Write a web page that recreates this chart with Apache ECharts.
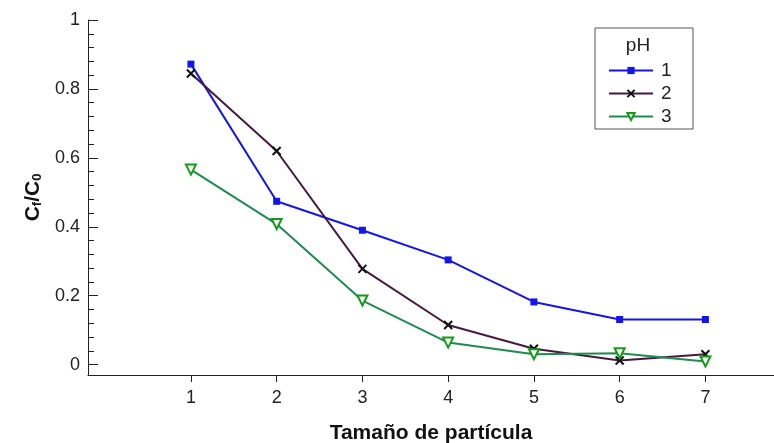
<!DOCTYPE html>
<html>
<head>
<meta charset="utf-8">
<script src="https://cdn.jsdelivr.net/npm/echarts@6/dist/echarts.min.js"></script>
<style>
  html, body { margin: 0; padding: 0; background: #fff; }
  #chart { width: 774px; height: 443px; }
</style>
</head>
<body>
<div id="chart"></div>
<script>
// tamaño de partícula (eje x)
var sizes = [1, 2, 3, 4, 5, 6, 7];
// Cf/C0 para cada pH
var ph1 = [0.872, 0.474, 0.390, 0.304, 0.182, 0.131, 0.131];
var ph2 = [0.845, 0.620, 0.278, 0.115, 0.046, 0.012, 0.030];
var ph3 = [0.566, 0.408, 0.186, 0.064, 0.030, 0.033, 0.009];
var yMajor = [0, 0.2, 0.4, 0.6, 0.8, 1];
var yMinor = [0.04, 0.08, 0.12, 0.16, 0.24, 0.28, 0.32, 0.36, 0.44, 0.48, 0.52, 0.56,
              0.64, 0.68, 0.72, 0.76, 0.84, 0.88, 0.92, 0.96];

function pairs(vals) {
    return sizes.map(function(x, i) { return [x, vals[i]]; });
}

var font = 'Liberation Sans, Arial, sans-serif';
var chart = echarts.init(document.getElementById('chart'));

var option = {
    animation: false,
    backgroundColor: '#fff',
    textStyle: { fontFamily: font },
    grid: { left: 88, right: 0, top: 20, bottom: 68, containLabel: false, outerBoundsMode: 'none' },
    legend: {
        orient: 'vertical',
        left: 603,
        top: 55,
        itemWidth: 44,
        itemHeight: 9,
        itemGap: 2,
        textStyle: { fontSize: 19, color: '#222', padding: [0, 0, 0, 3], lineHeight: 21, fontFamily: font },
        data: ['1', '2', '3']
    },
    graphic: [
        {
            type: 'rect',
            shape: { x: 595, y: 28, width: 98, height: 101 },
            style: { fill: 'none', stroke: '#555', lineWidth: 1 },
            z: 10
        },
        {
            type: 'text',
            x: 638, y: 46,
            style: { text: 'pH', fontSize: 19, fill: '#222', align: 'center', verticalAlign: 'middle', fontFamily: font },
            z: 10
        }
    ],
    xAxis: {
        type: 'value',
        min: -0.2,
        max: 7.8,
        name: 'Tamaño de partícula',
        nameLocation: 'middle',
        nameGap: 48,
        nameTextStyle: { fontSize: 21, fontWeight: 'bold', color: '#111', fontFamily: font },
        axisLine: { onZero: false, lineStyle: { color: '#222', width: 1 } },
        axisTick: { show: true, inside: false, length: 7, customValues: sizes, lineStyle: { color: '#222' } },
        axisLabel: { customValues: sizes, fontSize: 18, color: '#222', margin: 14 },
        splitLine: { show: false }
    },
    yAxis: [
        {
            type: 'value',
            min: -0.03,
            max: 1,
            name: '{a|C}{s|f}{a|/C}{s|0}',
            nameLocation: 'middle',
            nameRotate: 90,
            nameGap: 34,
            nameTextStyle: {
                rich: {
                    a: { fontSize: 21, fontWeight: 'bold', color: '#111', fontFamily: font, lineHeight: 26, verticalAlign: 'bottom' },
                    s: { fontSize: 13, fontWeight: 'bold', color: '#111', fontFamily: font, lineHeight: 20, verticalAlign: 'bottom' }
                }
            },
            axisLine: { show: true, onZero: false, lineStyle: { color: '#222', width: 1 } },
            axisTick: { show: true, inside: true, length: 10, customValues: yMajor, lineStyle: { color: '#222' } },
            axisLabel: {
                customValues: yMajor,
                fontSize: 18,
                color: '#222',
                margin: 8,
                formatter: function(v) { return String(+v.toFixed(1)); }
            },
            splitLine: { show: false }
        },
        {
            type: 'value',
            min: -0.03,
            max: 1,
            position: 'left',
            axisLine: { show: false, onZero: false },
            axisTick: { show: true, inside: true, length: 6, customValues: yMinor, lineStyle: { color: '#222' } },
            axisLabel: { show: false },
            splitLine: { show: false }
        }
    ],
    series: [
        {
            name: '1',
            type: 'line',
            data: pairs(ph1),
            symbol: 'rect',
            symbolSize: 7,
            color: '#1414ee',
            lineStyle: { color: '#1414ee', width: 2 },
            itemStyle: { color: '#1414ee' }
        },
        {
            name: '2',
            type: 'line',
            data: pairs(ph2),
            symbol: 'path://M0,0L10,10M10,0L0,10',
            symbolSize: 8,
            color: '#46193f',
            lineStyle: { color: '#46193f', width: 2 },
            itemStyle: { color: 'none', borderColor: '#111', borderWidth: 2 }
        },
        {
            name: '3',
            type: 'line',
            data: pairs(ph3),
            symbol: 'triangle',
            symbolRotate: 180,
            symbolSize: 10,
            color: '#1e8c50',
            lineStyle: { color: '#1e8c50', width: 2 },
            itemStyle: { color: '#fff', borderColor: '#139a18', borderWidth: 2 }
        }
    ]
};

chart.setOption(option);
</script>
</body>
</html>
